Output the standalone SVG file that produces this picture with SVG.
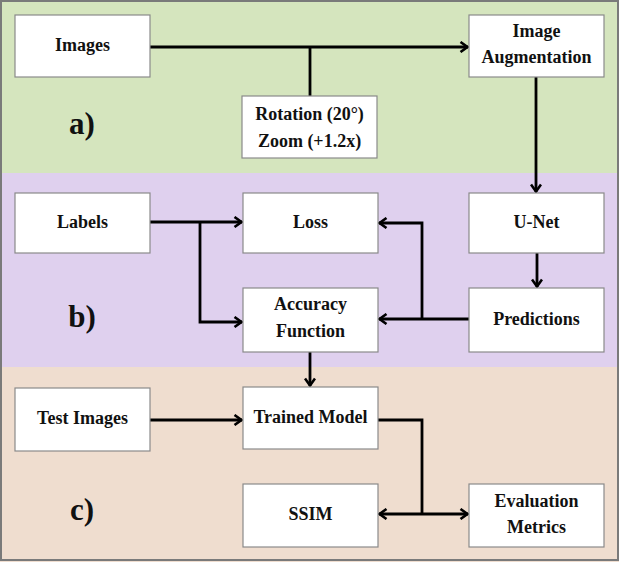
<svg xmlns="http://www.w3.org/2000/svg" width="619" height="562" viewBox="0 0 619 562">
<style>
.box{fill:#fff;stroke:#8a8a8a;stroke-width:1.2}
.t{font-family:"Liberation Serif","Times New Roman",serif;font-weight:bold;font-size:18px;fill:#111;text-anchor:middle}
.big{font-size:31px}
.c{fill:none;stroke:#000;stroke-width:2.8}
</style>
<defs>
<marker id="ah" viewBox="0 0 12 12" refX="10.5" refY="6" markerWidth="12" markerHeight="12" orient="auto" markerUnits="userSpaceOnUse">
<path d="M3,1 L10,6 L3,11" fill="none" stroke="#000" stroke-width="2.6"/>
</marker>
</defs>
<g id="bands">
<rect x="0" y="0" width="619" height="173" fill="#d5e5be"/>
<rect x="0" y="173" width="619" height="194" fill="#dfd0ee"/>
<rect x="0" y="367" width="619" height="195" fill="#efddcf"/>
<rect x="1" y="1" width="617" height="559" fill="none" stroke="#7a7a7a" stroke-width="2"/>
</g>
<g id="section-labels">
<text class="t big" x="82" y="134">a)</text>
<text class="t big" x="82" y="327">b)</text>
<text class="t big" x="82" y="520">c)</text>
</g>
<g id="connectors">
<line class="c" x1="150" y1="47" x2="468" y2="47" marker-end="url(#ah)"/>
<line class="c" x1="310" y1="96" x2="310" y2="47"/>
<line class="c" x1="536" y1="77" x2="536" y2="192" marker-end="url(#ah)"/>
<line class="c" x1="537" y1="253" x2="537" y2="287" marker-end="url(#ah)"/>
<line class="c" x1="150" y1="222" x2="242" y2="222" marker-end="url(#ah)"/>
<polyline class="c" points="200,222 200,322 242,322" marker-end="url(#ah)"/>
<line class="c" x1="469" y1="319" x2="379" y2="319" marker-end="url(#ah)"/>
<polyline class="c" points="422,319 422,223 379,223" marker-end="url(#ah)"/>
<line class="c" x1="310" y1="352" x2="310" y2="386" marker-end="url(#ah)"/>
<line class="c" x1="150" y1="420" x2="242" y2="420" marker-end="url(#ah)"/>
<polyline class="c" points="378,420 422,420 422,514"/>
<line class="c" x1="422" y1="514" x2="379" y2="514" marker-end="url(#ah)"/>
<line class="c" x1="422" y1="514" x2="468" y2="514" marker-end="url(#ah)"/>
</g>
<g id="images"><rect class="box" x="15" y="15" width="135" height="62"/><text class="t" x="82.5" y="51">Images</text></g>
<g id="augmentation"><rect class="box" x="469" y="15" width="135" height="62"/><text class="t" x="536.5" y="37">Image</text><text class="t" x="536.5" y="63">Augmentation</text></g>
<g id="rotation"><rect class="box" x="242" y="96" width="135" height="62"/><text class="t" x="309.5" y="120">Rotation (20°)</text><text class="t" x="309.5" y="147">Zoom (+1.2x)</text></g>
<g id="labels"><rect class="box" x="15" y="193" width="135" height="60"/><text class="t" x="82.5" y="228">Labels</text></g>
<g id="loss"><rect class="box" x="243" y="193" width="135" height="60"/><text class="t" x="310.5" y="228">Loss</text></g>
<g id="unet"><rect class="box" x="469" y="193" width="135" height="60"/><text class="t" x="536.5" y="228">U-Net</text></g>
<g id="accuracy"><rect class="box" x="243" y="288" width="135" height="64"/><text class="t" x="310.5" y="310">Accuracy</text><text class="t" x="310.5" y="337">Function</text></g>
<g id="predictions"><rect class="box" x="469" y="288" width="135" height="64"/><text class="t" x="536.5" y="325">Predictions</text></g>
<g id="test-images"><rect class="box" x="15" y="388" width="135" height="63"/><text class="t" x="82.5" y="424">Test Images</text></g>
<g id="trained-model"><rect class="box" x="243" y="387" width="135" height="62"/><text class="t" x="310.5" y="423">Trained Model</text></g>
<g id="ssim"><rect class="box" x="243" y="484" width="135" height="63"/><text class="t" x="310.5" y="520">SSIM</text></g>
<g id="evaluation"><rect class="box" x="469" y="484" width="135" height="63"/><text class="t" x="536.5" y="507">Evaluation</text><text class="t" x="536.5" y="533">Metrics</text></g>
</svg>
